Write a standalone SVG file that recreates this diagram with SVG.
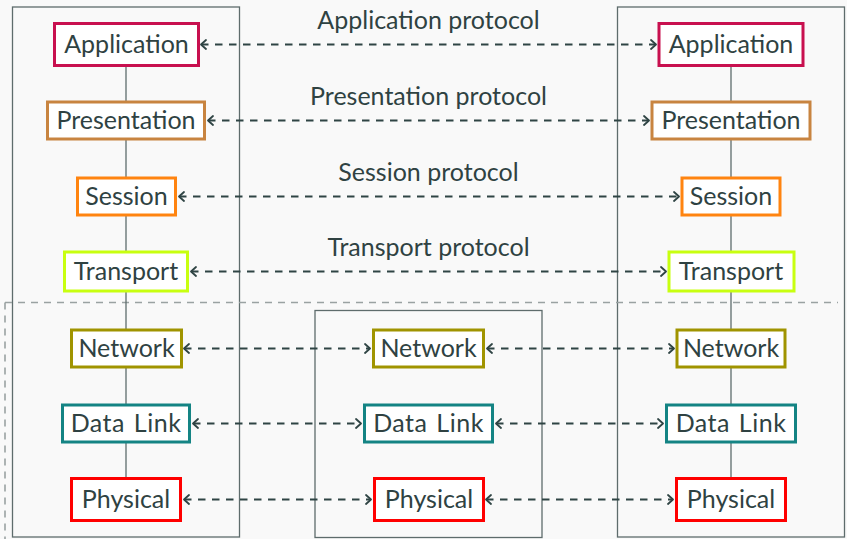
<svg xmlns="http://www.w3.org/2000/svg" width="847" height="539" viewBox="0 0 847 539">
<defs>
<marker id="ah" viewBox="-7 -6 9 12" markerWidth="9" markerHeight="12" refX="0" refY="0" orient="auto-start-reverse" markerUnits="userSpaceOnUse">
<path d="M -5 -4.5 L 0 0 L -5 4.5" fill="none" stroke="#2F4444" stroke-width="1.8" stroke-linecap="round" stroke-linejoin="round"/>
</marker>
</defs>
<style>
.frame{fill:none;stroke:#5E6C6C;stroke-width:1.3}
.link{stroke:#5E6C6C;stroke-width:1.3}
.sep{fill:none;stroke:#9AA2A2;stroke-width:1.6;stroke-dasharray:7 6}
.node rect{fill:#FFFFFF;stroke-width:3}
.node text,.lbl{font-family:Lato,"Open Sans",sans-serif;font-size:25px;fill:#2F4242;text-anchor:middle}
.dl text{word-spacing:2px;letter-spacing:0.5px}
.arr{stroke:#2F4444;stroke-width:2;stroke-dasharray:7.5 6.5;fill:none;marker-start:url(#ah);marker-end:url(#ah)}
.app rect{stroke:#C8104F}
.pre rect{stroke:#C88440}
.ses rect{stroke:#FF8410}
.tra rect{stroke:#C8FF10}
.net rect{stroke:#A09400}
.dl rect{stroke:#148484}
.phy rect{stroke:#FF0000}
</style>
<rect x="0" y="0" width="847" height="539" fill="#F9F9F9"/>
<g id="frames">
<rect class="frame" x="12.5" y="7" width="227" height="530"/>
<rect class="frame" x="617.5" y="7" width="227" height="530"/>
<rect class="frame" x="315" y="310.5" width="227" height="227"/>
<path class="sep" d="M 5 302.5 H 838 M 5 302.5 V 539"/>
</g>
<g id="links">
<line class="link" x1="126" y1="66" x2="126" y2="478"/>
<line class="link" x1="731" y1="66" x2="731" y2="478"/>
</g>
<g id="connectors">
<line class="arr" x1="201" y1="44.5" x2="656" y2="44.5"/>
<line class="arr" x1="208" y1="120.5" x2="649" y2="120.5"/>
<line class="arr" x1="179" y1="196.5" x2="679" y2="196.5"/>
<line class="arr" x1="191" y1="271.5" x2="666" y2="271.5"/>
<line class="arr" x1="184" y1="348.5" x2="370" y2="348.5"/>
<line class="arr" x1="487" y1="348.5" x2="674" y2="348.5"/>
<line class="arr" x1="193" y1="423.5" x2="361" y2="423.5"/>
<line class="arr" x1="496" y1="423.5" x2="663" y2="423.5"/>
<line class="arr" x1="184" y1="499.5" x2="371" y2="499.5"/>
<line class="arr" x1="486" y1="499.5" x2="673" y2="499.5"/>
</g>
<g id="labels">
<text class="lbl" x="428.5" y="29">Application protocol</text>
<text class="lbl" x="428.5" y="105">Presentation protocol</text>
<text class="lbl" x="428.5" y="181">Session protocol</text>
<text class="lbl" x="428.5" y="256">Transport protocol</text>
</g>
<g id="L-app" class="node app"><rect x="54.5" y="23.5" width="144" height="42"/><text x="126.5" y="53">Application</text></g>
<g id="L-pre" class="node pre"><rect x="47.5" y="102" width="157" height="37"/><text x="126" y="129">Presentation</text></g>
<g id="L-ses" class="node ses"><rect x="77.5" y="178" width="98" height="37"/><text x="126.5" y="205">Session</text></g>
<g id="L-tra" class="node tra"><rect x="64.5" y="252" width="123" height="39"/><text x="126" y="280">Transport</text></g>
<g id="L-net" class="node net"><rect x="71.5" y="330" width="110" height="37"/><text x="126.5" y="357">Network</text></g>
<g id="L-dl" class="node dl"><rect x="62.5" y="405" width="127" height="37"/><text x="126" y="432">Data Link</text></g>
<g id="L-phy" class="node phy"><rect x="71.5" y="478.5" width="109" height="42"/><text x="126" y="507.5">Physical</text></g>
<g id="M-net" class="node net"><rect x="373.5" y="330" width="110" height="37"/><text x="428.5" y="357">Network</text></g>
<g id="M-dl" class="node dl"><rect x="364.5" y="405" width="128" height="37"/><text x="428.5" y="432">Data Link</text></g>
<g id="M-phy" class="node phy"><rect x="374.5" y="478.5" width="109" height="42"/><text x="429" y="507.5">Physical</text></g>
<g id="R-app" class="node app"><rect x="659" y="23.5" width="144" height="42"/><text x="731" y="53">Application</text></g>
<g id="R-pre" class="node pre"><rect x="652" y="102" width="158" height="37"/><text x="731" y="129">Presentation</text></g>
<g id="R-ses" class="node ses"><rect x="682" y="178" width="98" height="37"/><text x="731" y="205">Session</text></g>
<g id="R-tra" class="node tra"><rect x="669" y="252" width="125" height="39"/><text x="731" y="280">Transport</text></g>
<g id="R-net" class="node net"><rect x="677" y="330" width="108" height="37"/><text x="731" y="357">Network</text></g>
<g id="R-dl" class="node dl"><rect x="666.5" y="405" width="129" height="37"/><text x="731" y="432">Data Link</text></g>
<g id="R-phy" class="node phy"><rect x="676.5" y="478.5" width="109" height="42"/><text x="731" y="507.5">Physical</text></g>
</svg>
